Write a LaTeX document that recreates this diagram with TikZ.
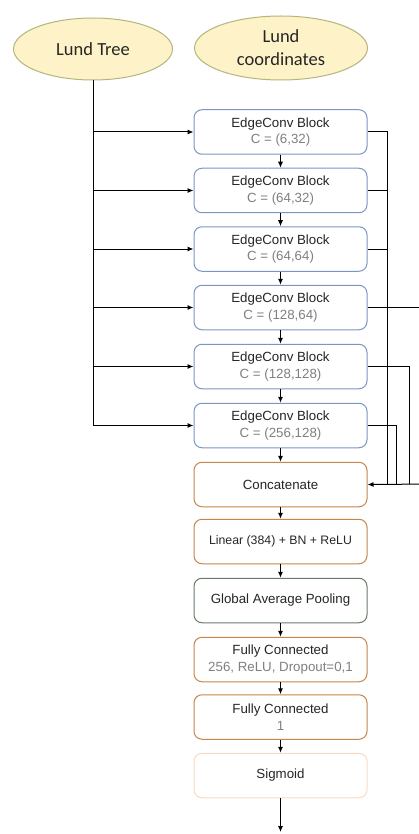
\documentclass[tikz,border=0pt]{standalone}
\usepackage{fontspec}
\setmainfont{Liberation Sans}
\newfontfamily\calib{Carlito}
\usetikzlibrary{arrows.meta,shapes.geometric}
\definecolor{ellfill}{HTML}{FDF2C8}
\definecolor{elldraw}{HTML}{B5B57C}
\definecolor{blueb}{HTML}{7D95C4}
\definecolor{orangeb}{HTML}{C8864A}
\definecolor{greenb}{HTML}{6B7A6B}
\definecolor{sigb}{HTML}{F6DCC6}
\definecolor{txt}{HTML}{262626}
\definecolor{subtxt}{HTML}{808080}
\tikzset{
  ell/.style={ellipse, draw=elldraw, fill=ellfill, line width=1pt, inner sep=0pt,
    font=\calib\fontsize{18.5}{23}\selectfont, text=txt, align=center},
  blk/.style={rectangle, rounded corners=8pt, draw=#1, fill=white, line width=1pt,
    minimum width=173pt, minimum height=44.5pt, inner sep=0pt, align=center,
    font=\fontsize{13.3}{16.5}\selectfont, text=txt},
  sub/.style={text=subtxt},
  arr/.style={-{Latex[length=6pt,width=5pt]}, line width=1pt, black},
  ln/.style={line width=1pt, black}
}
\newcommand{\subt}[1]{\textcolor{subtxt}{#1}}
\begin{document}
\begin{tikzpicture}[x=1pt,y=-1pt]
\useasboundingbox (0,0) rectangle (419,834);
\fill[white] (0,0) rectangle (419,834);

\node[ell, minimum width=159pt, minimum height=62pt] (lt) at (93,49) {Lund Tree};
\node[ell, minimum width=173pt, minimum height=64pt] (lc) at (281,48) {Lund\\coordinates};

\node[blk=blueb] (e1) at (280.5,132) {EdgeConv Block\\\subt{C = (6,32)}};
\node[blk=blueb] (e2) at (280.5,190.5) {EdgeConv Block\\\subt{C = (64,32)}};
\node[blk=blueb] (e3) at (280.5,249) {EdgeConv Block\\\subt{C = (64,64)}};
\node[blk=blueb] (e4) at (280.5,307.5) {EdgeConv Block\\\subt{C = (128,64)}};
\node[blk=blueb] (e5) at (280.5,366.5) {EdgeConv Block\\\subt{C = (128,128)}};
\node[blk=blueb] (e6) at (280.5,425.5) {EdgeConv Block\\\subt{C = (256,128)}};
\node[blk=orangeb] (cc) at (280.5,484.5) {Concatenate};
\node[blk=orangeb, font=\fontsize{12.3}{15}\selectfont] (li) at (280.5,541.5) {Linear (384) + BN + ReLU};
\node[blk=greenb] (gp) at (280.5,600.5) {Global Average Pooling};
\node[blk=orangeb] (f1) at (280.5,659.5) {Fully Connected\\\subt{256, ReLU, Dropout=0,1}};
\node[blk=orangeb] (f2) at (280.5,717) {Fully Connected\\\subt{1}};
\node[blk=sigb] (sg) at (280.5,775.5) {Sigmoid};
\coordinate (out) at (280.5,832);

% left trunk
\draw[ln] (lt.south) -- (lt.south |- e6.west);
\foreach \n in {e1,e2,e3,e4,e5,e6}{
  \draw[arr] (lt.south |- \n.west) -- (\n.west);
}

% vertical chain
\draw[arr] (e1) -- (e2);
\draw[arr] (e2) -- (e3);
\draw[arr] (e3) -- (e4);
\draw[arr] (e4) -- (e5);
\draw[arr] (e5) -- (e6);
\draw[arr] (e6) -- (cc);
\draw[arr] (cc) -- (li);
\draw[arr] (li) -- (gp);
\draw[arr] (gp) -- (f1);
\draw[arr] (f1) -- (f2);
\draw[arr] (f2) -- (sg);
\draw[arr] (sg) -- (out);

% right skip connections
\coordinate (ra) at (387,484);
\coordinate (rb) at (396,484);
\coordinate (rc) at (409,484);
\coordinate (rd) at (435,484);
\draw[ln] (e1.east) -| (ra);
\draw[ln] (e2.east) -- (e2.east -| ra);
\draw[ln] (e3.east) -- (e3.east -| ra);
\draw[ln] (e4.east) -| (rd);
\draw[ln] (e5.east) -| (rc);
\draw[ln] (e6.east) -| (rb);
\draw[arr] (rd) -- (cc.east);
\end{tikzpicture}
\end{document}
